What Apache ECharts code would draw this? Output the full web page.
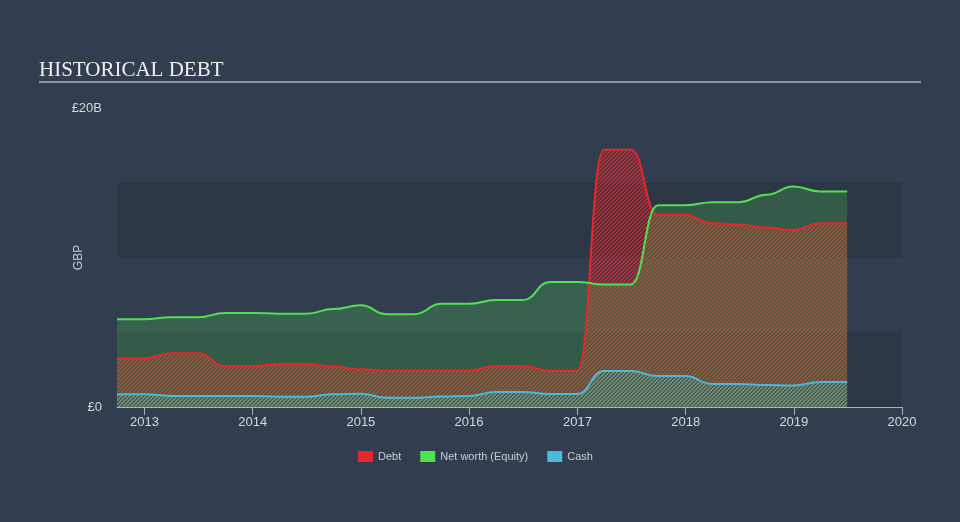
<!DOCTYPE html>
<html>
<head>
<meta charset="utf-8">
<script src="https://cdn.jsdelivr.net/npm/echarts@6/dist/echarts.min.js"></script>
<style>
html,body{margin:0;padding:0;background:#323e4f;}
#c{width:960px;height:522px;}
</style>
</head>
<body>
<div id="c"></div>
<script>
// Quarter-end reporting dates
var dates = ['2012-09-30','2012-12-31','2013-03-31','2013-06-30','2013-09-30','2013-12-31',
  '2014-03-31','2014-06-30','2014-09-30','2014-12-31','2015-03-31','2015-06-30','2015-09-30','2015-12-31',
  '2016-03-31','2016-06-30','2016-09-30','2016-12-31','2017-03-31','2017-06-30','2017-09-30','2017-12-31',
  '2018-03-31','2018-06-30','2018-09-30','2018-12-31','2019-03-31','2019-06-30'];
// Values in £B
var debt = [3.26,3.26,3.59,3.59,2.74,2.74,2.88,2.88,2.7,2.52,2.43,2.43,2.43,2.43,
  2.75,2.75,2.4,2.4,17.2,17.2,12.84,12.84,12.29,12.2,12.0,11.84,12.29,12.29];
var equity = [5.87,5.87,6.0,6.0,6.29,6.29,6.24,6.24,6.55,6.8,6.2,6.2,6.9,6.9,
  7.15,7.15,8.36,8.36,8.2,8.2,13.5,13.5,13.7,13.7,14.2,14.75,14.42,14.42];
var cash = [0.85,0.85,0.74,0.74,0.74,0.74,0.69,0.69,0.85,0.89,0.62,0.62,0.7,0.74,
  1.0,1.0,0.87,0.87,2.4,2.4,2.07,2.07,1.54,1.54,1.47,1.43,1.67,1.67];
var yTicks = ['£0','£20B'];
var legendNames = ['Debt','Net worth (Equity)','Cash'];

var RED = '#e8262b', GREEN = '#51e052', BLUE = '#4bb9dc';

function hatch(stripe, gap) {
  var c = document.createElement('canvas');
  c.width = 4; c.height = 4;
  var ctx = c.getContext('2d');
  for (var x = 0; x < 4; x++) {
    for (var y = 0; y < 4; y++) {
      var k = (x + y) % 4;
      ctx.fillStyle = (k === 0 || k === 1) ? stripe : gap;
      ctx.fillRect(x, y, 1, 1);
    }
  }
  return {image: c, repeat: 'repeat'};
}

function pairs(vals) {
  return dates.map(function (d, i) { return [d, vals[i]]; });
}

var chart = echarts.init(document.getElementById('c'), null, {renderer: 'canvas'});
chart.setOption({
  backgroundColor: '#323e4f',
  animation: false,
  title: {
    text: 'HISTORICAL DEBT', left: 34, top: 55,
    textStyle: {fontFamily: 'Liberation Serif', fontSize: 21, fontWeight: 'normal', color: '#f0f0f0'}
  },
  graphic: [{
    type: 'line', shape: {x1: 39, y1: 82, x2: 921, y2: 82},
    style: {stroke: '#b0b5bb', lineWidth: 1.5}, silent: true
  }],
  legend: {
    data: legendNames, top: 446, left: 353, icon: 'rect',
    itemWidth: 15, itemHeight: 11, itemGap: 19,
    textStyle: {color: '#c8ccd2', fontSize: 11, fontFamily: 'Liberation Sans'}
  },
  grid: {left: 117, right: 58, top: 108, bottom: 115, containLabel: false},
  xAxis: {
    type: 'time', min: '2012-09-30', max: '2020-01-01',
    splitNumber: 7, minInterval: 365 * 86400000,
    axisLine: {lineStyle: {color: '#aab3bd', width: 1}},
    axisTick: {show: true, length: 8, lineStyle: {color: '#aab3bd'}},
    axisLabel: {color: '#d4d8dd', fontSize: 13, fontFamily: 'Liberation Sans', margin: 9,
      formatter: '{yyyy}', showMinLabel: false, showMaxLabel: true},
    splitLine: {show: false}
  },
  yAxis: {
    type: 'value', min: 0, max: 20, interval: 5,
    name: 'GBP', nameLocation: 'middle', nameGap: 32, nameRotate: 90, nameMoveOverlap: false,
    nameTextStyle: {color: '#c8ccd2', fontSize: 12, fontFamily: 'Liberation Sans'},
    axisLine: {show: false}, axisTick: {show: false},
    axisLabel: {color: '#d4d8dd', fontSize: 13, fontFamily: 'Liberation Sans', margin: 15,
      formatter: function (v) { return v === 0 ? yTicks[0] : (v === 20 ? yTicks[1] : ''); }},
    splitLine: {show: false},
    splitArea: {show: true, areaStyle: {color: ['rgba(0,0,0,0.11)', 'rgba(0,0,0,0)']}}
  },
  series: [
    {
      name: legendNames[0], type: 'line', data: pairs(debt), smooth: 0.5, smoothMonotone: 'x',
      showSymbol: false, symbol: 'none',
      itemStyle: {color: RED}, lineStyle: {color: RED, width: 2},
      areaStyle: {color: hatch('rgba(232,38,43,0.75)', 'rgba(232,38,43,0.12)'), opacity: 1}
    },
    {
      name: legendNames[2], type: 'line', data: pairs(cash), smooth: 0.5, smoothMonotone: 'x',
      showSymbol: false, symbol: 'none',
      itemStyle: {color: BLUE}, lineStyle: {color: BLUE, width: 2},
      areaStyle: {color: hatch('rgba(75,185,220,0.5)', 'rgba(75,185,220,0.08)'), opacity: 1}
    },
    {
      name: legendNames[1], type: 'line', data: pairs(equity), smooth: 0.5, smoothMonotone: 'x',
      showSymbol: false, symbol: 'none',
      itemStyle: {color: GREEN}, lineStyle: {color: GREEN, width: 2},
      areaStyle: {color: 'rgba(81,224,82,0.22)', opacity: 1}
    }
  ]
});
</script>
</body>
</html>
